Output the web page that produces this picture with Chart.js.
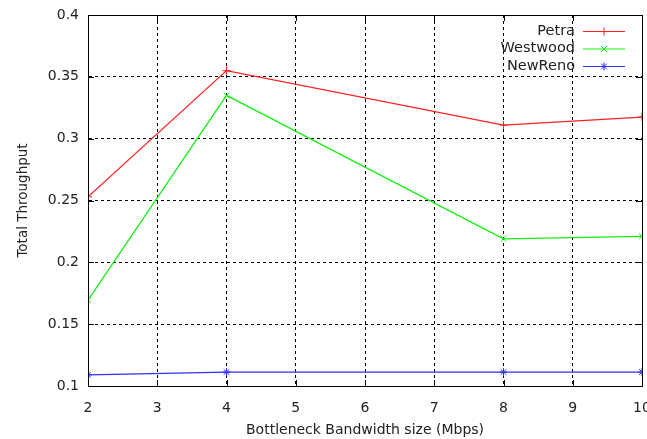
<!DOCTYPE html>
<html>
<head>
<meta charset="utf-8">
<script src="https://cdn.jsdelivr.net/npm/chart.js@4"></script>
<style>
	html, body { margin: 0; padding: 0; background: #fff; }
	#wrap { width: 647px; height: 439px; }
</style>
</head>
<body>
<div id="wrap"><canvas id="throughputChart" width="647" height="439"></canvas></div>
<script>
const bandwidth = [2, 4, 8, 10];
const petra = [0.253, 0.355, 0.311, 0.3175];
const westwood = [0.1695, 0.335, 0.219, 0.221];
const newReno = [0.109, 0.1113, 0.1113, 0.1113];
const xTicks = [2, 3, 4, 5, 6, 7, 8, 9, 10];
const yTicks = [0.1, 0.15, 0.2, 0.25, 0.3, 0.35, 0.4];

const FONT = "'DejaVu Sans', sans-serif";

const toPoints = (ys) => bandwidth.map((x, i) => ({ x: x, y: ys[i] }));

// gnuplot style frame, inward ticks and the in-plot legend
const gnuplotBits = {
	id: "gnuplotBits",
	afterDraw(chart) {
		const ctx = chart.ctx;
		const a = chart.chartArea;
		const xs = chart.scales.x;
		const ys = chart.scales.y;
		ctx.save();
		ctx.strokeStyle = "#000";
		ctx.lineWidth = 1;
		ctx.setLineDash([]);
		ctx.beginPath();
		xTicks.forEach((t) => {
			const px = Math.round(xs.getPixelForValue(t)) + 0.5;
			ctx.moveTo(px, a.bottom); ctx.lineTo(px, a.bottom - 6);
			ctx.moveTo(px, a.top); ctx.lineTo(px, a.top + 6);
		});
		yTicks.forEach((t) => {
			const py = Math.round(ys.getPixelForValue(t)) + 0.5;
			ctx.moveTo(a.left, py); ctx.lineTo(a.left + 6, py);
			ctx.moveTo(a.right, py); ctx.lineTo(a.right - 6, py);
		});
		ctx.stroke();
		ctx.strokeRect(Math.round(a.left) + 0.5, Math.round(a.top) + 0.5,
			Math.round(a.right - a.left), Math.round(a.bottom - a.top));

		// legend
		ctx.font = "14.5px " + FONT;
		ctx.textAlign = "right";
		ctx.textBaseline = "middle";
		chart.data.datasets.forEach((ds, i) => {
			const y = a.top + 16 + i * 17.5;
			ctx.fillStyle = "#222";
			ctx.fillText(ds.label, a.right - 67, y);
			ctx.strokeStyle = ds.borderColor;
			ctx.fillStyle = ds.borderColor;
			ctx.beginPath();
			ctx.moveTo(a.right - 59, y + 0.5);
			ctx.lineTo(a.right - 17, y + 0.5);
			ctx.stroke();
			Chart.helpers.drawPoint(ctx, {
				pointStyle: ds.pointStyle, radius: 4, borderWidth: 1
			}, a.right - 38, y + 0.5);
		});
		ctx.restore();
	},
};

new Chart(document.getElementById("throughputChart").getContext("2d"), {
	type: "line",
	data: {
		datasets: [
			{
				label: "Petra",
				data: toPoints(petra),
				borderColor: "#ff2020",
				backgroundColor: "#ff2020",
				pointStyle: "cross",
			},
			{
				label: "Westwood",
				data: toPoints(westwood),
				borderColor: "#10f010",
				backgroundColor: "#10f010",
				pointStyle: "crossRot",
			},
			{
				label: "NewReno",
				data: toPoints(newReno),
				borderColor: "#3030ff",
				backgroundColor: "#3030ff",
				pointStyle: "star",
			},
		],
	},
	options: {
		responsive: false,
		animation: false,
		layout: { autoPadding: false, padding: { top: 15, right: 5, left: 15, bottom: 0 } },
		elements: {
			line: { borderWidth: 1.2, tension: 0 },
			point: { radius: 4, borderWidth: 1, hoverRadius: 4 },
		},
		scales: {
			x: {
				type: "linear",
				min: 2,
				max: 10,
				afterBuildTicks: (s) => { s.ticks = xTicks.map((v) => ({ value: v })); },
				afterFit: (s) => { s.height = 53; s.paddingLeft = 0; s.paddingRight = 0; },
				ticks: { color: "#222", font: { family: FONT, size: 14 }, padding: 14, maxRotation: 0 },
				grid: { color: "#000", tickLength: 0, drawTicks: false },
				border: { display: true, color: "#000", dash: [3, 3] },
				title: {
					display: true,
					text: "Bottleneck Bandwidth size (Mbps)",
					color: "#222",
					font: { family: FONT, size: 14 },
					padding: { top: 8, bottom: 0 },
				},
			},
			y: {
				min: 0.1,
				max: 0.4,
				afterBuildTicks: (s) => { s.ticks = yTicks.map((v) => ({ value: v })); },
				afterFit: (s) => { s.width = 73; s.paddingTop = 0; s.paddingBottom = 0; },
				ticks: {
					color: "#222",
					font: { family: FONT, size: 14 },
					padding: 9,
					callback: (v) => String(+v.toFixed(2)),
				},
				grid: { color: "#000", tickLength: 0, drawTicks: false },
				border: { display: true, color: "#000", dash: [3, 3] },
				title: {
					display: true,
					text: "Total Throughput",
					color: "#222",
					font: { family: FONT, size: 13.5 },
					padding: { top: 0, bottom: 0 },
				},
			},
		},
		plugins: {
			legend: { display: false },
			tooltip: { enabled: false },
		},
	},
	plugins: [gnuplotBits],
});
</script>
</body>
</html>
